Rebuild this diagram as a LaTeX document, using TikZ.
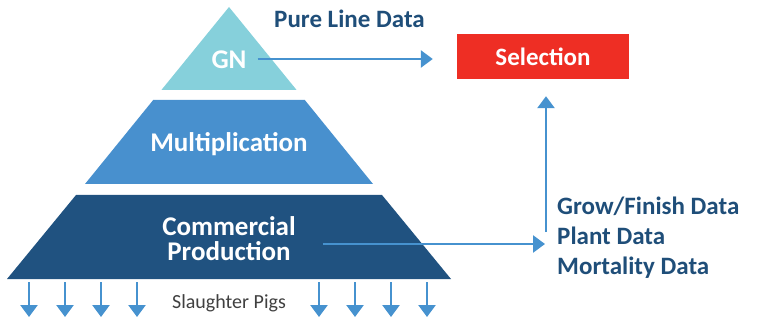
\documentclass[tikz,border=0pt]{standalone}
\usepackage{fontspec}
\setmainfont{Carlito}
\usepackage{tikz}
\usepackage{xcolor}
\usetikzlibrary{arrows.meta, positioning, calc}
\definecolor{cTop}{RGB}{134,208,219}
\definecolor{cMid}{RGB}{72,144,206}
\definecolor{cLow}{RGB}{32,82,128}
\definecolor{cArrow}{RGB}{70,146,207}
\definecolor{cLabel}{RGB}{31,78,121}
\definecolor{cSel}{RGB}{238,46,36}
\definecolor{cGrey}{RGB}{64,64,64}
\tikzset{
	layertext/.style={text=white, font=\bfseries\fontsize{27}{25}\selectfont, align=center, inner sep=0pt},
	datatext/.style ={text=cLabel, font=\bfseries\fontsize{25}{30}\selectfont, align=left, inner sep=0pt},
	selbox/.style   ={rectangle, fill=cSel, text=white, font=\bfseries\fontsize{25}{25}\selectfont, minimum width=172pt, minimum height=45pt, inner sep=0pt},
	flow/.style     ={-{Triangle[length=12pt, width=17pt]}, line width=2.6pt, draw=cArrow},
	outflow/.style  ={-{Triangle[length=12pt, width=17pt]}, line width=2.6pt, draw=cArrow},
}
\begin{document}
\begin{tikzpicture}[x=1pt, y=-1pt]
	\useasboundingbox (0,0) rectangle (757,323);
	% pyramid layers, all on one slope from the apex
	\fill[cTop] (229,7) -- (296.6,90) -- (161.4,90) -- cycle;
	\fill[cMid] (153.2,100) -- (304.8,100) -- (373,184) -- (85,184) -- cycle;
	\fill[cLow] (76,195) -- (382,195) -- (451,279) -- (7,279) -- cycle;
	\node[layertext, anchor=base] (gn) at (229,69) {GN};
	\node[layertext, anchor=base] (mult) at (229,152) {Multiplication};
	\node[layertext] (comm) at (229,239) {Commercial\\Production};
	% selection and the data feeding it
	\node[selbox] (sel) at (543,56.5) {Selection};
	\node[text=cLabel, font=\bfseries\fontsize{25}{25}\selectfont, anchor=base west, inner sep=0pt] (pure) at (274,28) {Pure Line Data};
	\node[datatext, anchor=west] (data) at (557,238) {Grow/Finish Data\\Plant Data\\Mortality Data};
	\coordinate (gnout) at ($(gn.east |- 0,59)+(11,0)$);
	\coordinate (commout) at ($(comm.east |- 0,244)+(27,0)$);
	\coordinate (feed) at (546,232);
	\draw[flow] (gnout) -- ($(gnout -| sel.west)+(-24,0)$);
	\draw[flow] (commout) -- ($(commout -| data.west)+(-12,0)$);
	\draw[flow] (feed) -- ($(feed |- sel.south)+(0,17)$);
	% pigs leaving the bottom layer
	\node[text=cGrey, font=\fontsize{20}{20}\selectfont, anchor=base, inner sep=0pt] (pigs) at (229,308) {Slaughter Pigs};
	\foreach \px in {29,65,101,137,319,355,391,427}
		\draw[outflow] (\px,282) -- (\px,317);
\end{tikzpicture}
\end{document}
